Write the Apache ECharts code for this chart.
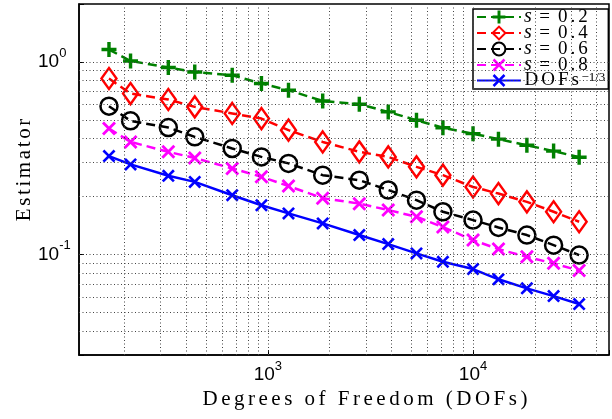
<!DOCTYPE html>
<html>
<head>
<meta charset="utf-8">
<script src="https://cdn.jsdelivr.net/npm/echarts@6/dist/echarts.min.js"></script>
<style>
  html, body { margin: 0; padding: 0; background: #fff; }
  #chart { width: 612px; height: 419px; }
</style>
</head>
<body>
<div id="chart"></div>
<script>
// degrees of freedom (x) shared by all runs
var dofs = [168, 214, 327, 440, 670, 930, 1260, 1850, 2790, 3860, 5300, 7130, 10000, 13300, 18300, 24700, 32900];
var s02 = [1.16, 1.012, 0.935, 0.887, 0.853, 0.772, 0.713, 0.627, 0.603, 0.550, 0.498, 0.455, 0.424, 0.397, 0.369, 0.344, 0.320];
var s04 = [0.820, 0.685, 0.638, 0.584, 0.540, 0.508, 0.442, 0.384, 0.341, 0.321, 0.285, 0.258, 0.224, 0.207, 0.1875, 0.1665, 0.1477];
var s06 = [0.589, 0.494, 0.456, 0.408, 0.355, 0.321, 0.297, 0.258, 0.243, 0.216, 0.1913, 0.1665, 0.1507, 0.138, 0.126, 0.1117, 0.0992];
var s08 = [0.451, 0.384, 0.341, 0.317, 0.2795, 0.253, 0.2263, 0.196, 0.1835, 0.170, 0.1567, 0.1386, 0.1186, 0.1065, 0.0971, 0.0898, 0.0824];
var rate = [0.324, 0.2934, 0.256, 0.238, 0.203, 0.180, 0.1633, 0.1449, 0.126, 0.1131, 0.1012, 0.0915, 0.0839, 0.0742, 0.0666, 0.0607, 0.0552];

// log grid lines (major + minor)
var xGrid = [200, 300, 400, 500, 600, 700, 800, 900, 1000, 2000, 3000, 4000, 5000, 6000, 7000, 8000, 9000, 10000, 20000, 30000, 40000];
var yGrid = [0.04, 0.05, 0.06, 0.07, 0.08, 0.09, 0.1, 0.2, 0.3, 0.4, 0.5, 0.6, 0.7, 0.8, 0.9, 1];

var PLUS = 'path://M-1.6,-7L1.6,-7L1.6,-1.6L7,-1.6L7,1.6L1.6,1.6L1.6,7L-1.6,7L-1.6,1.6L-7,1.6L-7,-1.6L-1.6,-1.6Z';
var CROSS = 'path://M-7,-5L-5,-7L0,-2L5,-7L7,-5L2,0L7,5L5,7L0,2L-5,7L-7,5L-2,0Z';

function pairs(ys) {
  return dofs.map(function (x, i) { return [x, ys[i]]; });
}

// one rich token per character, to get the wide latex-like spacing
function spaced(str, key) {
  return str.split('').map(function (c) { return '{' + key + '|' + c + '}'; }).join('');
}

function powLabel(v) {
  var e = Math.log10(v);
  if (Math.abs(e - Math.round(e)) > 1e-6) return '';
  return '{b|10}{e|' + Math.round(e) + '}';
}

var tickRich = {
  b: { fontSize: 19, fontFamily: 'Liberation Sans', color: '#000' },
  e: { fontSize: 13, fontFamily: 'Liberation Sans', color: '#000', padding: [0, 0, 17, 0] }
};

var serif = 'Liberation Serif';
var legendNames = ['s02', 's04', 's06', 's08', 'rate'];
function sLabel(val) {
  return '{i|s}{q|=}' + spaced(val, 'c');
}
var legendText = {
  s02: sLabel('0.2'),
  s04: sLabel('0.4'),
  s06: sLabel('0.6'),
  s08: sLabel('0.8'),
  rate: spaced('DOFs', 'c') + '{e|\u22121/3}'
};

var myChart = echarts.init(document.getElementById('chart'));
var option = {
  animation: false,
  grid: {
    left: 79, top: 4, right: -8, bottom: 64,
    show: true, borderColor: '#000', borderWidth: 1.5, backgroundColor: '#fff'
  },
  legend: {
    data: legendNames,
    left: 473, top: 9,
    orient: 'vertical',
    itemWidth: 44, itemHeight: 16, itemGap: -4,
    padding: [-2, 3, -1, 3],
    backgroundColor: '#fff', borderColor: '#000', borderWidth: 1.5,
    borderRadius: 0,
    formatter: function (n) { return legendText[n]; },
    textStyle: {
      fontFamily: serif, fontSize: 19, lineHeight: 15, color: '#000', padding: [0, 0, 0, -3],
      rich: {
        i: { fontFamily: serif, fontStyle: 'italic', fontSize: 20, color: '#000', lineHeight: 15, padding: [0, 1] },
        q: { fontFamily: serif, fontSize: 19, color: '#000', lineHeight: 15, padding: [0, 6.5] },
        c: { fontFamily: serif, fontSize: 19, color: '#000', lineHeight: 15, padding: [0, 1.5] },
        e: { fontFamily: serif, fontSize: 13, color: '#000', lineHeight: 11, padding: [0, 0, 5, 1] }
      }
    }
  },
  xAxis: {
    type: 'log', logBase: 10, min: 120, max: 46000,
    axisLine: { lineStyle: { color: '#000', width: 1.5 } },
    axisTick: { inside: true, length: 5, lineStyle: { color: '#000' } },
    splitLine: { show: false },
    axisLabel: { formatter: powLabel, rich: tickRich, margin: 5 }
  },
  yAxis: {
    type: 'log', logBase: 10, min: 0.03, max: 2,
    axisLine: { lineStyle: { color: '#000', width: 1.5 } },
    axisTick: { inside: true, length: 5, lineStyle: { color: '#000' } },
    splitLine: { show: false },
    axisLabel: { formatter: powLabel, rich: tickRich, align: 'left', margin: 41 }
  },
  graphic: [
    {
      type: 'text',
      position: [365, 399],
      style: {
        text: spaced('Degrees of Freedom (DOFs)', 'c'), x: 0, y: 0,
        align: 'center', verticalAlign: 'middle',
        rich: { c: { fontFamily: serif, fontSize: 21, fill: '#000', padding: [0, 1.75] } }
      }
    },
    {
      type: 'text',
      position: [24, 170], rotation: Math.PI / 2,
      style: {
        text: spaced('Estimator', 'c'), x: 0, y: 0,
        align: 'center', verticalAlign: 'middle',
        rich: { c: { fontFamily: serif, fontSize: 21, fill: '#000', padding: [0, 1.3] } }
      }
    }
  ],
  series: [
    {
      name: 'grid', type: 'line', data: [], z: 1, silent: true,
      markLine: {
        silent: true, symbol: ['none', 'none'], label: { show: false },
        lineStyle: { type: [1, 2.5], color: '#444', width: 1 },
        data: xGrid.map(function (v) { return { xAxis: v }; })
          .concat(yGrid.map(function (v) { return { yAxis: v }; }))
      }
    },
    {
      name: 's02', type: 'line', data: pairs(s02),
      symbol: PLUS, symbolSize: 15,
      lineStyle: { color: '#008000', width: 2.5, type: [9, 5] },
      itemStyle: { color: '#008000', borderWidth: 0 }
    },
    {
      name: 's04', type: 'line', data: pairs(s04),
      symbol: 'diamond', symbolSize: [15, 21],
      lineStyle: { color: '#ff0000', width: 2.5, type: [9, 5] },
      itemStyle: { color: 'rgba(0,0,0,0)', borderColor: '#ff0000', borderWidth: 2.5 }
    },
    {
      name: 's06', type: 'line', data: pairs(s06),
      symbol: 'circle', symbolSize: 17,
      lineStyle: { color: '#000000', width: 2.5, type: [9, 5] },
      itemStyle: { color: 'rgba(0,0,0,0)', borderColor: '#000000', borderWidth: 2.5 }
    },
    {
      name: 's08', type: 'line', data: pairs(s08),
      symbol: CROSS, symbolSize: 14,
      lineStyle: { color: '#ff00ff', width: 2.5, type: [9, 5] },
      itemStyle: { color: '#ff00ff', borderWidth: 0 }
    },
    {
      name: 'rate', type: 'line', data: pairs(rate),
      symbol: CROSS, symbolSize: 13,
      lineStyle: { color: '#0000ff', width: 2.5 },
      itemStyle: { color: '#0000ff', borderWidth: 0 }
    }
  ]
};
myChart.setOption(option);
</script>
</body>
</html>
